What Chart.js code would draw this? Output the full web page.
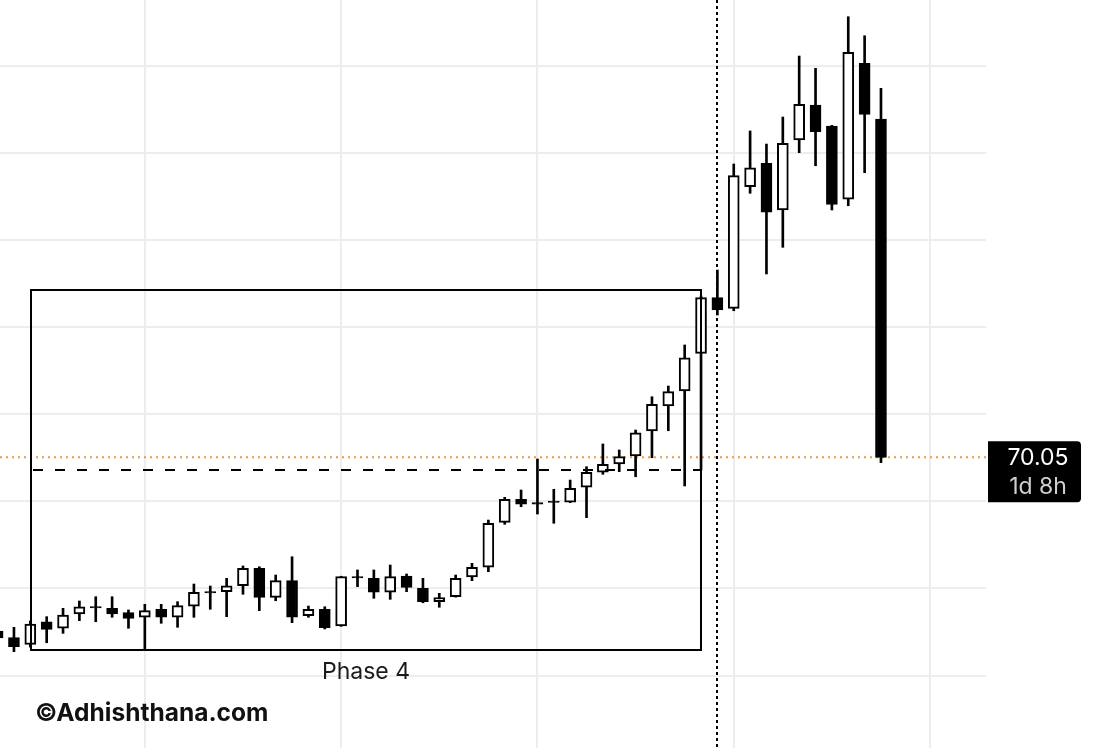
<!DOCTYPE html>
<html>
<head>
<meta charset="utf-8">
<script src="https://cdn.jsdelivr.net/npm/chart.js@4.4.1/dist/chart.umd.min.js"></script>
<style>
  html, body { margin: 0; padding: 0; background: #ffffff; }
  #wrap { width: 1098px; height: 748px; position: relative; }
</style>
</head>
<body>
<div id="wrap"><canvas id="c" width="1098" height="748"></canvas></div>
<script>
// ---- Data (candle index = category) ----
const candleIndex = Array.from({length: 55}, (_, i) => i);
const opens  = [50.12,49.35,48.59,51.18,50.43,52.07,52.92,52.72,52.22,51.69,52.61,51.69,52.98,54.64,54.63,55.31,57.31,53.98,55.89,51.87,52.61,50.69,56.36,56.16,54.56,56.43,55.02,53.48,54.05,56.31,57.43,62.59,65.23,64.85,65.03,64.89,66.61,68.33,69.28,70.20,73.07,75.94,77.66,81.98,88.37,87.15,101.10,103.79,98.43,106.46,110.48,108.07,99.66,115.26,108.87];
const highs  = [50.46,50.54,51.26,51.76,52.72,53.56,54.05,54.05,52.53,53.18,53.18,53.48,55.51,55.28,56.16,57.58,57.49,56.54,58.64,52.98,52.90,56.40,57.12,57.12,57.69,56.66,56.16,54.44,56.54,57.88,62.85,65.46,66.30,69.85,66.38,67.44,68.97,71.58,70.89,73.18,77.00,78.23,82.94,88.56,91.54,103.71,107.50,106.00,109.10,116.10,114.69,108.15,120.61,118.43,112.40];
const lows   = [48.97,47.74,48.28,48.77,49.85,51.30,51.18,51.69,50.43,47.94,51.00,50.54,51.69,52.61,51.76,54.33,52.45,53.59,51.07,51.69,50.35,50.65,55.20,53.87,53.75,54.63,53.36,52.84,54.00,55.89,56.92,62.36,64.38,63.54,62.48,64.85,63.12,68.10,68.40,67.82,70.00,73.10,66.76,68.60,86.38,86.87,100.35,91.09,94.15,105.01,103.51,98.43,98.92,102.71,69.43];
const closes = [49.31,48.31,50.92,50.31,51.95,52.90,52.76,52.07,51.57,52.45,51.69,53.02,54.56,54.48,55.31,57.31,53.98,55.89,51.69,52.61,50.49,56.35,56.20,54.56,56.35,55.13,53.48,53.94,56.16,57.43,62.48,65.23,64.66,64.66,64.87,66.49,68.33,69.25,70.12,72.87,76.13,77.58,81.48,88.37,86.95,102.37,103.28,98.17,106.08,110.56,107.42,99.08,116.53,109.41,70.05];

// axis grid values
const xGridValues = [9, 21, 33, 45, 57];
const yGridValues = [45, 55, 65, 75, 85, 95, 105, 115];

// annotations (data space)
const phaseBoxX = [2.04, 43];
const phaseBoxY = [47.94, 89.25];
const phaseLabel = 'Phase 4';
const breakoutLevel = 68.65;
const markerIndex = 44;
const lastPrice = 70.05;
const lastPriceText = '70.05';
const countdownText = '1d 8h';
const watermark = '\u00A9Adhishthana.com';

const bodies = candleIndex.map(i => ({x: i, y: [opens[i], closes[i]]}));
const wicks  = candleIndex.map(i => ({x: i, y: [lows[i], highs[i]]}));
const bodyColors = candleIndex.map(i => closes[i] > opens[i] ? '#ffffff' : '#000000');

const overlay = {
  id: 'overlay',
  beforeDatasetsDraw(chart) {
    const {ctx, chartArea, scales: {x, y}} = chart;
    ctx.save();
    const py = y.getPixelForValue(lastPrice);
    ctx.strokeStyle = '#ee9a3f';
    ctx.lineWidth = 2;
    ctx.setLineDash([2, 4]);
    ctx.beginPath();
    ctx.moveTo(chartArea.left, py);
    ctx.lineTo(chartArea.right, py);
    ctx.stroke();
    const mx = Math.round(x.getPixelForValue(markerIndex));
    ctx.strokeStyle = '#000000';
    ctx.lineWidth = 2;
    ctx.setLineDash([3, 3]);
    ctx.beginPath();
    ctx.moveTo(mx, 0);
    ctx.lineTo(mx, chart.height);
    ctx.stroke();
    ctx.restore();
  },
  afterDatasetsDraw(chart) {
    const {ctx, scales: {x, y}} = chart;
    ctx.save();
    const x0 = Math.round(x.getPixelForValue(phaseBoxX[0]));
    const x1 = Math.round(x.getPixelForValue(phaseBoxX[1]));
    const yt = Math.round(y.getPixelForValue(phaseBoxY[1]));
    const yb = Math.round(y.getPixelForValue(phaseBoxY[0]));
    ctx.strokeStyle = '#000000';
    ctx.lineWidth = 2;
    ctx.setLineDash([]);
    ctx.strokeRect(x0, yt, x1 - x0, yb - yt);
    const dy = Math.round(y.getPixelForValue(breakoutLevel));
    ctx.lineWidth = 2;
    ctx.setLineDash([10, 12]);
    ctx.beginPath();
    ctx.moveTo(x0 + 2, dy);
    ctx.lineTo(x1, dy);
    ctx.stroke();
    ctx.setLineDash([]);
    ctx.fillStyle = '#1a1a1a';
    ctx.font = '23px Inter, "Noto Sans", sans-serif';
    ctx.textAlign = 'center';
    ctx.textBaseline = 'middle';
    ctx.fillText(phaseLabel, (x0 + x1) / 2, yb + 22);
    ctx.restore();
  },
  afterDraw(chart) {
    const {ctx, chartArea, scales: {y}} = chart;
    ctx.save();
    const py = y.getPixelForValue(lastPrice);
    const bx = chartArea.right + 2, bw = 93, bt = py - 16, bh = 61, r = 4;
    ctx.fillStyle = '#000000';
    ctx.beginPath();
    ctx.moveTo(bx, bt);
    ctx.lineTo(bx + bw - r, bt);
    ctx.quadraticCurveTo(bx + bw, bt, bx + bw, bt + r);
    ctx.lineTo(bx + bw, bt + bh - r);
    ctx.quadraticCurveTo(bx + bw, bt + bh, bx + bw - r, bt + bh);
    ctx.lineTo(bx, bt + bh);
    ctx.closePath();
    ctx.fill();
    ctx.textAlign = 'center';
    ctx.textBaseline = 'middle';
    ctx.font = '23px Inter, "Noto Sans", sans-serif';
    ctx.fillStyle = '#ffffff';
    ctx.fillText(lastPriceText, bx + 50, bt + 17);
    ctx.fillStyle = '#cfcfcf';
    ctx.fillText(countdownText, bx + 50, bt + 46);
    ctx.fillStyle = '#111111';
    ctx.font = 'bold 24.5px Inter, "Noto Sans", sans-serif';
    ctx.textAlign = 'left';
    ctx.fillText(watermark, 35, 714);
    ctx.restore();
  }
};

new Chart(document.getElementById('c'), {
  type: 'bar',
  data: {
    datasets: [
      {
        label: 'body', data: bodies, backgroundColor: bodyColors,
        borderColor: '#000000', borderWidth: 2, borderSkipped: false,
        barThickness: 11, grouped: false, order: 0
      },
      {
        label: 'wick', data: wicks, backgroundColor: '#000000',
        borderWidth: 0, barThickness: 2, grouped: false, order: 1
      }
    ]
  },
  options: {
    responsive: false,
    animation: false,
    events: [],
    layout: { padding: { left: 0, right: 112, top: 0, bottom: 0 } },
    plugins: { legend: { display: false }, tooltip: { enabled: false } },
    scales: {
      x: {
        type: 'linear', min: 0.1467, max: 60.42, offset: false,
        grid: { color: '#ededed', lineWidth: 2, drawTicks: false, offset: false },
        border: { display: false },
        ticks: { display: false },
        afterBuildTicks: s => { s.ticks = xGridValues.map(v => ({value: v})); }
      },
      y: {
        type: 'linear', min: 36.69, max: 122.53,
        grid: { color: '#ededed', lineWidth: 2, drawTicks: false },
        border: { display: false },
        ticks: { display: false },
        afterBuildTicks: s => { s.ticks = yGridValues.map(v => ({value: v})); }
      }
    }
  },
  plugins: [overlay]
});
</script>
</body>
</html>
